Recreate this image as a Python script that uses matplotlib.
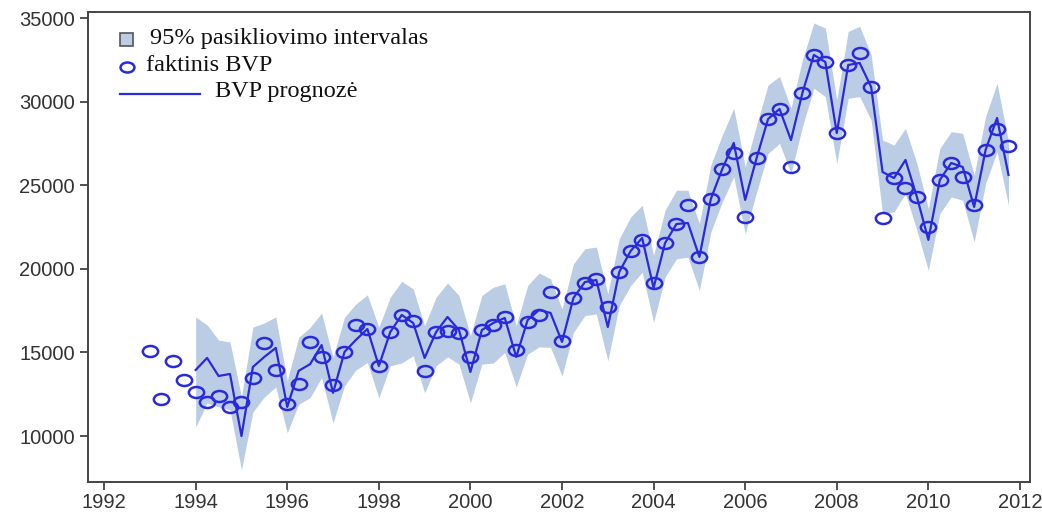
import numpy as np
import matplotlib
matplotlib.use("Agg")
import matplotlib.pyplot as plt
from matplotlib.patches import Rectangle
from matplotlib.lines import Line2D
from matplotlib.path import Path

# ── data (quarterly, 1993Q1 .. 2011Q4) ───────────────────────────────────
actual = [15100, 12200, 14500, 13350,   # 1993
          12650, 12050, 12400, 11750,   # 1994
          12050, 13470, 15570, 13950,   # 1995
          11900, 13110, 15630, 14700,   # 1996
          13080, 15030, 16610, 16400,   # 1997
          14190, 16220, 17240, 16880,   # 1998
          13860, 16220, 16280, 16160,   # 1999
          14740, 16340, 16640, 17120,   # 2000
          15170, 16820, 17240, 18630,   # 2001
          15690, 18260, 19180, 19420,   # 2002
          17720, 19810, 21070, 21720,   # 2003
          19130, 21540, 22680, 23830,   # 2004
          20710, 24180, 25970, 26920,   # 2005
          23120, 26630, 28960, 29560,   # 2006
          26090, 30520, 32790, 32370,   # 2007
          28120, 32190, 32910, 30880,   # 2008
          23040, 25430, 24830, 24300,   # 2009
          22500, 25310, 26330, 25490,   # 2010
          23820, 27110, 28360, 27350]   # 2011

# forecast + 95% interval, 1994Q1 .. 2011Q4
forecast = [13950, 14670, 13590, 13710,
            10000, 14130, 14730, 15270,
            11740, 13900, 14300, 15440,
            12580, 15030, 15750, 16400,
            14190, 16220, 17240, 16760,
            14670, 16220, 17120, 16340,
            13830, 16340, 16760, 17060,
            14730, 16940, 17540, 17360,
            15630, 18260, 19210, 19330,
            16520, 19810, 21070, 21840,
            18860, 21540, 22680, 22740,
            20710, 24180, 25970, 27530,
            24120, 26630, 28960, 29560,
            27700, 30520, 32790, 32370,
            28120, 32190, 32310, 30880,
            25790, 25430, 26510, 24300,
            21730, 25310, 26330, 26090,
            23700, 27110, 29020, 25610]

upper = [17120, 16640, 15740, 15620,
         12340, 16520, 16760, 17120,
         13300, 15900, 16500, 17360,
         14700, 17100, 17900, 18440,
         16500, 18300, 19250, 18800,
         16600, 18300, 19150, 18400,
         16000, 18400, 18900, 19100,
         16600, 19000, 19750, 19400,
         17600, 20300, 21200, 21300,
         18500, 21800, 23100, 23800,
         20800, 23500, 24700, 24700,
         22700, 26200, 28000, 29600,
         26100, 28600, 31000, 31500,
         29600, 32500, 34700, 34400,
         30100, 34200, 34500, 32800,
         27700, 27400, 28400, 26300,
         23600, 27200, 28200, 28100,
         25600, 29100, 31100, 27600]

lower = [10540, 11980, 11740, 11560,
         7970, 11440, 12340, 12930,
         10200, 11900, 12300, 13500,
         10780, 13000, 13950, 14400,
         12280, 14200, 14370, 14800,
         12580, 14200, 14730, 14300,
         11980, 14300, 14370, 15000,
         12930, 14900, 15330, 15300,
         13600, 16200, 17200, 17300,
         14500, 17800, 19000, 19800,
         16800, 19500, 20600, 20700,
         18700, 22200, 24000, 25500,
         22100, 24600, 26900, 27500,
         25700, 28500, 30800, 30300,
         26300, 30200, 30300, 28900,
         23300, 23400, 24500, 22300,
         19900, 23300, 24300, 24100,
         21600, 25100, 27000, 23800]

x_ticks = list(range(1992, 2013, 2))
y_ticks = [10000, 15000, 20000, 25000, 30000, 35000]

legend_labels = ["95% pasikliovimo intervalas", "faktinis BVP", "BVP prognozė"]

BAND = "#bacde5"
BLUE = "#2a2adb"

# flattened circle marker (the original draws small ellipses)
circ = Path.unit_circle()
ellipse = Path(circ.vertices * np.array([1.0, 0.72]), circ.codes)

t_act = 1993 + np.arange(len(actual)) / 4
t_fc = 1994 + np.arange(len(forecast)) / 4

fig = plt.figure(figsize=(10.42, 5.12), dpi=100)
ax = fig.add_axes([0.0845, 0.0586, 0.904, 0.918])

ax.fill_between(t_fc, lower, upper, color=BAND, lw=0, zorder=1)
ax.plot(t_fc, forecast, color=BLUE, lw=1.6, zorder=2)
ax.plot(t_act, actual, ls="none", marker=ellipse, ms=11, mfc="none",
        mec=BLUE, mew=1.8, zorder=3)

ax.set_xlim(1991.65, 2012.22)
ax.set_ylim(7250, 35360)
ax.set_xticks(x_ticks)
ax.set_yticks(y_ticks)
ax.tick_params(direction="out", length=6, width=1.2, colors="#333333",
               labelsize=14.5)
ax.tick_params(axis="x", pad=2)
for lab in ax.get_xticklabels() + ax.get_yticklabels():
    lab.set_fontfamily("Liberation Sans")
for s in ax.spines.values():
    s.set_color("#444444")
    s.set_linewidth(1.4)

# legend drawn by hand (handles differ in length, as in the original)
tf = ax.transAxes
serif = dict(family="Liberation Serif", fontsize=17.5, color="#111111",
             va="center", transform=tf)
ax.add_patch(Rectangle((0.034, 0.928), 0.014, 0.028, transform=tf,
                       facecolor=BAND, edgecolor="#555555", lw=1.2, zorder=5))
ax.text(0.066, 0.944, legend_labels[0], **serif)
ax.add_line(Line2D([0.041], [0.883], transform=tf, ls="none", marker=ellipse,
                   ms=10, mfc="none", mec=BLUE, mew=1.8))
ax.text(0.062, 0.886, legend_labels[1], **serif)
ax.add_line(Line2D([0.034, 0.119], [0.826, 0.826], transform=tf,
                   color=BLUE, lw=1.6))
ax.text(0.135, 0.830, legend_labels[2], **serif)

fig.savefig("out.png", dpi=100)
